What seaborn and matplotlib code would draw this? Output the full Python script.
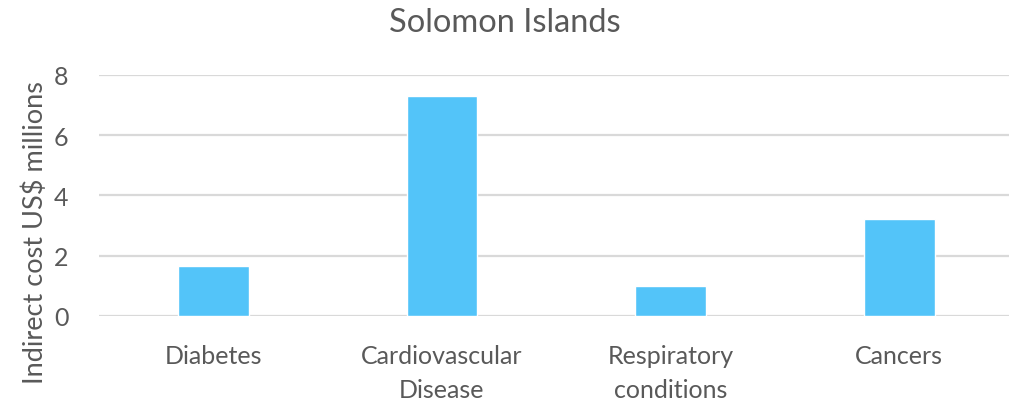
import matplotlib
matplotlib.use("Agg")
import matplotlib.pyplot as plt
import seaborn as sns
import pandas as pd

categories = ["Diabetes", "Cardiovascular\nDisease", "Respiratory\nconditions", "Cancers"]
values = [1.65, 7.30, 1.0, 3.21]
yticks = [0, 2, 4, 6, 8]

sns.set_theme(style="white")
plt.rcParams['font.family'] = ['Lato', 'DejaVu Sans']
txt = "#595959"

df = pd.DataFrame({"cat": categories, "val": values})
fig = plt.figure(figsize=(10.09, 4.06), dpi=100)
ax = fig.add_axes([99/1009, 1-317/406, 1-99/1009, (317-75.7)/406])
sns.barplot(data=df, x="cat", y="val", color="#53C4F9", width=0.31, ax=ax, saturation=1)
ax.set_xlim(-0.5, 3.48)
ax.set_ylim(0, 8)
ax.set_yticks(yticks)
ax.yaxis.grid(True, color="#D9D9D9", linewidth=1.6)
ax.set_axisbelow(True)
for s in ax.spines.values():
    s.set_visible(False)
ax.tick_params(axis="both", length=0, labelsize=18, labelcolor=txt)
ax.tick_params(axis="x", pad=20)
ax.tick_params(axis="y", pad=22)
for lab in ax.get_xticklabels():
    lab.set_linespacing(1.6)
ax.set_xlabel("")
ax.set_ylabel("")
fig.text(35/1009, 1-233/406, "Indirect cost US$ millions", rotation=90,
         ha="center", va="center", fontsize=19.5, color=txt)
fig.text(0.5, 1-23/406, "Solomon Islands", ha="center", va="center", fontsize=23.5, color=txt)
fig.savefig("out.png", dpi=100)
